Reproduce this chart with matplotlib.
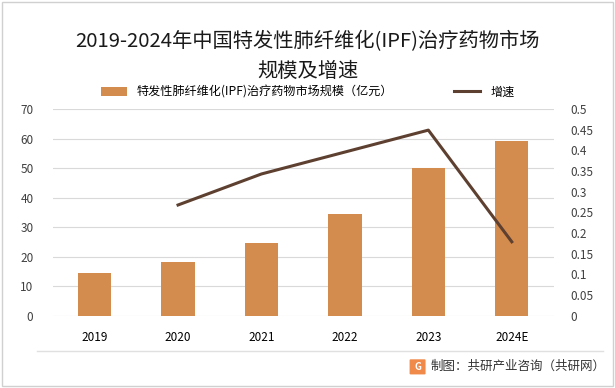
import matplotlib.pyplot as plt
from matplotlib.patches import FancyBboxPatch

plt.rcParams['font.family'] = ['Noto Sans CJK SC', 'DejaVu Sans']

years = ["2019", "2020", "2021", "2022", "2023", "2024E"]
market_size = [14.5, 18.3, 24.7, 34.5, 50.0, 59.2]
growth_years = ["2020", "2021", "2022", "2023", "2024E"]
growth = [0.268, 0.343, 0.396, 0.449, 0.179]

bar_color = "#D48C4E"
line_color = "#5E4030"
grid_color = "#D9D9D9"

fig = plt.figure(figsize=(6.15, 3.88), dpi=100)
ax = fig.add_axes([0.086, 0.186, 0.814, 0.533])
ax2 = ax.twinx()

x = list(range(len(years)))
ax.bar(x, market_size, width=0.4, color=bar_color, zorder=3,
       label="特发性肺纤维化(IPF)治疗药物市场规模（亿元）")
gx = [years.index(y) for y in growth_years]
ax2.plot(gx, growth, color=line_color, linewidth=2.2, label="增速", zorder=4)

ax.set_ylim(0, 70)
ax.set_yticks(range(0, 71, 10))
ax2.set_ylim(0, 0.5)
ax2.set_yticks([i * 0.05 for i in range(11)])
ax2.set_yticklabels(["0", "0.05", "0.1", "0.15", "0.2", "0.25", "0.3",
                     "0.35", "0.4", "0.45", "0.5"])
ax.set_xlim(-0.5, len(years) - 0.5)
ax.set_xticks(x)
ax.set_xticklabels(years)

ax.grid(axis="y", color=grid_color, linewidth=0.8, zorder=0)
for a in (ax, ax2):
    for s in a.spines.values():
        s.set_visible(False)
    a.tick_params(length=0, labelsize=8.5, colors="#404040")
ax.tick_params(axis="x", pad=11, colors="#000000")
ax.tick_params(axis="y", pad=14)
ax2.tick_params(axis="y", pad=12)

fig.text(0.5, 0.893, "2019-2024年中国特发性肺纤维化(IPF)治疗药物市场",
         ha="center", va="center", fontsize=14.6, color="#1a1a1a")
fig.text(0.5, 0.815, "规模及增速", ha="center", va="center",
         fontsize=14.6, color="#1a1a1a")

h1, l1 = ax.get_legend_handles_labels()
h2, l2 = ax2.get_legend_handles_labels()
fig.legend(h1 + h2, l1 + l2, loc="center", bbox_to_anchor=(0.5, 0.763),
           ncol=2, frameon=False, fontsize=8.7, columnspacing=5,
           handlelength=2.2, handleheight=0.8)

# frame and footer
fig.add_artist(plt.Rectangle((0.004, 0.005), 0.992, 0.99, transform=fig.transFigure,
                             fill=False, edgecolor="#D0D0D0", linewidth=1))
fig.add_artist(plt.Line2D([0.06, 0.98], [0.095, 0.095], transform=fig.transFigure,
                          color="#E0E0E0", linewidth=1))
fig.add_artist(FancyBboxPatch((0.668, 0.037), 0.022, 0.035, boxstyle="round,pad=0.002",
                              transform=fig.transFigure, facecolor="#F08A4B",
                              edgecolor="none"))
fig.text(0.679, 0.055, "G", ha="center", va="center", fontsize=7,
         color="white", fontweight="bold")
fig.text(0.70, 0.055, "制图：共研产业咨询（共研网）", ha="left", va="center",
         fontsize=9, color="#333333")

fig.savefig("out.png", dpi=100)
